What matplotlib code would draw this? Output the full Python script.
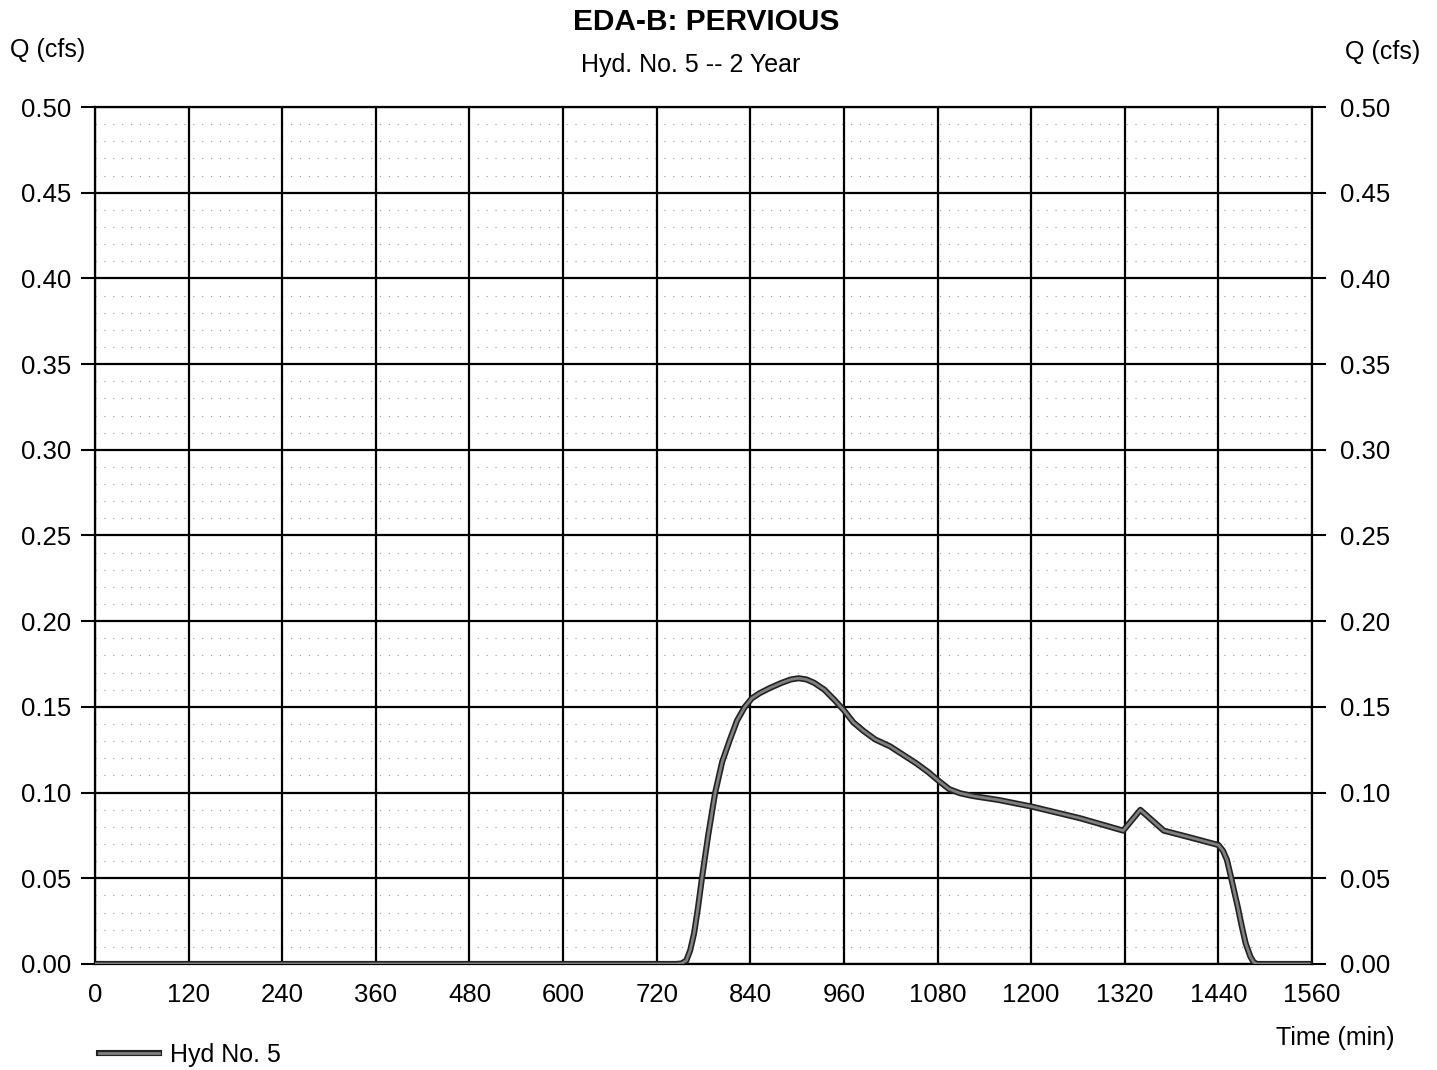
import matplotlib.pyplot as plt
import matplotlib.patheffects as pe
import numpy as np

plt.rcParams['font.family'] = ['Liberation Sans', 'DejaVu Sans']

# hydrograph
t_min = [0, 600, 745, 752, 758, 763, 768, 773, 778, 786, 795, 804, 814, 823, 833,
         842, 852, 865, 880, 892, 902, 912, 922, 935, 948, 960, 972, 985, 1000,
         1019, 1036, 1053, 1068, 1081, 1095, 1109, 1125, 1158, 1201, 1263, 1318,
         1340, 1370, 1408, 1440, 1446, 1451, 1455, 1459, 1465, 1470, 1475, 1481,
         1485, 1489, 1556]
q_cfs = [0.0, 0.0, 0.0, 0.0003, 0.002, 0.008, 0.018, 0.033, 0.050, 0.075, 0.100,
         0.118, 0.131, 0.142, 0.150, 0.155, 0.158, 0.161, 0.164, 0.166, 0.1667,
         0.166, 0.164, 0.160, 0.154, 0.148, 0.141, 0.136, 0.131, 0.127, 0.122,
         0.117, 0.112, 0.107, 0.102, 0.0996, 0.098, 0.0957, 0.0918, 0.085, 0.0778,
         0.0899, 0.0778, 0.0733, 0.0694, 0.066, 0.0607, 0.053, 0.045, 0.033, 0.022,
         0.012, 0.0043, 0.0012, 0.0, 0.0]

x_ticks = list(range(0, 1561, 120))
y_ticks = [0.0, 0.05, 0.10, 0.15, 0.20, 0.25, 0.30, 0.35, 0.40, 0.45, 0.50]

fig = plt.figure(figsize=(14.37, 10.7), dpi=100)
ax = fig.add_axes([0.0661, 0.0991, 0.8469, 0.8009])

# dotted minor grid every 0.01
for v in np.arange(0.01, 0.5, 0.01):
    if round(v * 100) % 5 != 0:
        ax.axhline(v, color='#999999', lw=0.8, ls=(0, (1, 7)), zorder=1)
for x in x_ticks:
    ax.axvline(x, color='black', lw=1.6, zorder=2)
for y in y_ticks:
    ax.axhline(y, color='black', lw=1.6, zorder=2)

outline = [pe.Stroke(linewidth=4.4, foreground='#222222'), pe.Normal()]
ax.plot(t_min, q_cfs, color='#808080', lw=2.0, zorder=5, label='Hyd No. 5',
        path_effects=outline)

ax.set_xlim(0, 1560)
ax.set_ylim(0, 0.5)
ax.set_xticks(x_ticks)
ax.set_yticks(y_ticks)
ax.set_yticklabels([f'{v:.2f}' for v in y_ticks])
ax.tick_params(axis='x', length=0, pad=14, labelsize=18.5)
ax.tick_params(axis='y', length=10, width=1.5, pad=7, labelsize=18.5)
for s in ax.spines.values():
    s.set_linewidth(1.6)

ax2 = ax.twinx()
ax2.set_ylim(0, 0.5)
ax2.set_yticks(y_ticks)
ax2.set_yticklabels([f'{v:.2f}' for v in y_ticks])
ax2.tick_params(axis='y', length=10, width=1.5, pad=10, labelsize=18.5)
for s in ax2.spines.values():
    s.set_visible(False)

fig.text(706 / 1437, 1 - 22 / 1070, 'EDA-B: PERVIOUS', ha='center', va='center',
         fontsize=21.5, fontweight='bold')
fig.text(691 / 1437, 1 - 65 / 1070, 'Hyd. No. 5 -- 2 Year', ha='center', va='center',
         fontsize=18)
fig.text(10 / 1437, 1 - 50 / 1070, 'Q (cfs)', ha='left', va='center', fontsize=18)
fig.text(1420 / 1437, 1 - 52 / 1070, 'Q (cfs)', ha='right', va='center', fontsize=18)
fig.text(1395 / 1437, 1 - 1038 / 1070, 'Time (min)', ha='right', va='center', fontsize=18)

fig.legend(loc='center left', bbox_to_anchor=(76 / 1437, 1 - 1055 / 1070), frameon=False,
           fontsize=18, handlelength=2.4, handletextpad=0.45)

fig.savefig('out.png', dpi=100)
